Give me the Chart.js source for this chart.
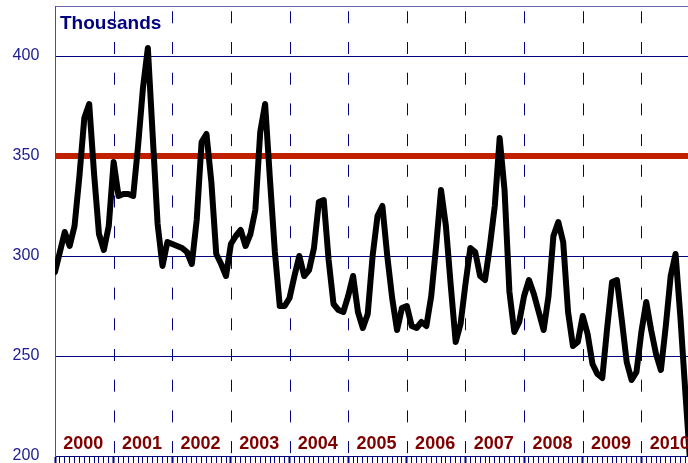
<!DOCTYPE html>
<html><head><meta charset="utf-8">
<script src="https://cdn.jsdelivr.net/npm/chart.js@4"></script>
<style>html,body{margin:0;padding:0;overflow:hidden;background:#fff}#wrap{width:700px;height:463px}</style>
</head><body><div id="wrap"><canvas id="c" width="700" height="463"></canvas></div>
<script>
const years = ['2000','2001','2002','2003','2004','2005','2006','2007','2008','2009','2010'];
const monthsPerYear = 12;
const values2000 = [292,302,312,305,315,340,369,376,341,311,303,315];
const values2001 = [347,330,331,331,330,355,384,404,360,316,295,307];
const values2002 = [306,305,304,302,296,318,357,361,337,301,296,290];
const values2003 = [306,310,313,305,311,323,362,376,338,302,275,275];
const values2004 = [279,290,300,290,293,304,327,328,298,276,273,272];
const values2005 = [280,290,272,264,271,300,320,325,300,279,263,274];
const values2006 = [275,265,264,267,265,280,305,333,315,285,257,266];
const values2007 = [286,304,302,290,288,305,325,359,333,282,262,267];
const values2008 = [280,288,281,272,263,280,310,317,307,272,255,257];
const values2009 = [270,261,246,241,239,264,287,288,268,247,238,242];
const values2010 = [262,277,263,251,243,265,290,301,269,232,196];
const values = [].concat(values2000,values2001,values2002,values2003,values2004,values2005,
  values2006,values2007,values2008,values2009,values2010);
const targetValue = 350;
const yTicks = [200,250,300,350,400];
const yMin = 200, yMax = 425;
const unitLabel = 'Thousands';

const NAVY = '#000080';
const xMax = years.length * monthsPerYear;

const overlay = {
  id: 'overlay',
  beforeDatasetsDraw(chart) {
    const ctx = chart.ctx, xs = chart.scales.x, a = chart.chartArea;
    ctx.save();
    ctx.strokeStyle = NAVY;
    ctx.lineWidth = 1;
    ctx.setLineDash([12, 18.7]);
    ctx.lineDashOffset = 25.4;
    for (let k = 1; k <= years.length; k++) {
      const px = Math.round(xs.getPixelForValue(k * monthsPerYear)) + 0.5;
      ctx.beginPath();
      ctx.moveTo(px, a.top);
      ctx.lineTo(px, a.bottom);
      ctx.stroke();
    }
    ctx.restore();
  },
  afterDatasetsDraw(chart) {
    const ctx = chart.ctx, xs = chart.scales.x, a = chart.chartArea;
    ctx.save();
    ctx.font = 'bold 18px "Liberation Sans", Arial, sans-serif';
    ctx.fillStyle = '#800000';
    ctx.textAlign = 'center';
    ctx.textBaseline = 'alphabetic';
    years.forEach((y, k) => {
      ctx.fillText(y, xs.getPixelForValue(k * monthsPerYear + 6) - 1, a.bottom - 7);
    });
    ctx.font = 'bold 19px "Liberation Sans", Arial, sans-serif';
    ctx.fillStyle = '#000080';
    ctx.textAlign = 'left';
    ctx.fillText(unitLabel, a.left + 5, a.top + 23);
    ctx.restore();
  }
};

new Chart(document.getElementById('c'), {
  type: 'line',
  data: {
    datasets: [
      {
        data: values.map((v, i) => ({x: i, y: v})),
        borderColor: '#000000',
        borderWidth: 6,
        borderJoinStyle: 'round',
        borderCapStyle: 'round',
        pointRadius: 0,
        tension: 0,
        fill: false,
        order: 0
      },
      {
        data: [{x: 0, y: targetValue}, {x: xMax, y: targetValue}],
        borderColor: '#c02000',
        borderWidth: 6,
        borderCapStyle: 'round',
        pointRadius: 0,
        fill: false,
        order: 1
      }
    ]
  },
  options: {
    responsive: false,
    animation: false,
    devicePixelRatio: 1,
    layout: {padding: {top: 6, left: 0, right: 0, bottom: 0}},
    plugins: {legend: {display: false}, tooltip: {enabled: false}},
    scales: {
      x: {
        type: 'linear',
        min: 0,
        max: xMax,
        afterBuildTicks(s) {
          const t = [];
          for (let i = 0; i <= xMax; i++) t.push({value: i});
          s.ticks = t;
        },
        afterFit(s) { s.height = 7; s.paddingLeft = 0; s.paddingRight = 0; },
        ticks: {display: false},
        grid: {
          drawOnChartArea: false,
          drawTicks: true,
          tickLength: 7,
          tickColor: NAVY,
          tickWidth: (c) => (c.tick && c.tick.value % monthsPerYear === 0) ? 2 : 1
        },
        border: {display: true, color: NAVY, width: 1}
      },
      y: {
        min: yMin,
        max: yMax,
        afterBuildTicks(s) {
          s.ticks = yTicks.concat([yMax]).map(v => ({value: v}));
        },
        afterFit(s) { s.width = 55; s.paddingTop = 0; s.paddingBottom = 0; },
        ticks: {
          color: '#20208f',
          font: {family: '"Liberation Sans", Arial, sans-serif', size: 16},
          padding: 15.7,
          callback: (v) => yTicks.includes(v) ? String(v) : ''
        },
        grid: {
          drawTicks: false,
          color: (c) => (c.tick && c.tick.value === yMax) ? '#6a6ab4' : NAVY,
          lineWidth: 1
        },
        border: {display: true, color: '#4a4aa8', width: 1}
      }
    }
  },
  plugins: [overlay]
});
</script>
</body></html>
